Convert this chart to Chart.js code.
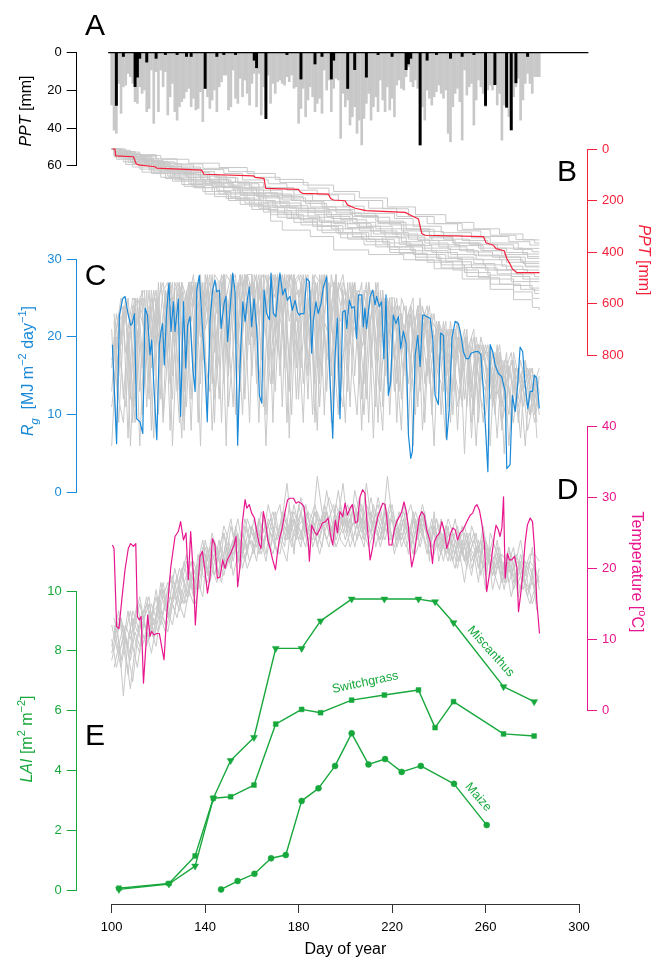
<!DOCTYPE html>
<html>
<head>
<meta charset="utf-8">
<script src="https://cdn.jsdelivr.net/npm/chart.js@4.4.1/dist/chart.umd.min.js"></script>
<style>
  html, body { margin: 0; padding: 0; background: #fff; }
  canvas { display: block; }
</style>
</head>
<body>
<canvas id="chart" width="653" height="959"></canvas>
<script>
// A: daily precipitation, mm (grey = all years, one bar per day from day 100)
const PPT_FIRST_DAY = 100;
const pptAllYears = [
  27.8, 41.1, 42.8, 16.3, 32.2, 18.1, 17.2, 11.0, 12.7, 16.3,
  26.0, 26.9, 18.1, 21.6, 19.8, 31.3, 29.6, 9.2, 37.5, 10.1,
  31.3, 9.2, 18.1, 10.1, 33.1, 23.4, 16.3, 31.3, 35.8, 28.7,
  26.0, 24.2, 20.7, 18.9, 28.7, 24.2, 30.4, 29.6, 20.7, 36.6,
  18.9, 23.4, 29.6, 25.1, 19.8, 31.3, 18.1, 15.4, 11.9, 11.9,
  30.4, 28.7, 9.2, 24.2, 26.9, 13.6, 23.4, 14.5, 21.6, 27.8,
  16.3, 11.0, 28.7, 11.0, 33.1, 18.1, 26.0, 11.9, 26.9, 16.3,
  21.6, 15.4, 14.5, 16.3, 17.2, 12.7, 15.4, 11.9, 18.9, 18.1,
  37.5, 29.6, 18.9, 34.0, 25.1, 18.1, 23.4, 31.3, 26.9, 24.2,
  32.2, 9.2, 19.8, 14.5, 31.3, 18.9, 13.6, 14.5, 45.5, 21.6,
  28.7, 25.1, 38.4, 34.0, 28.7, 42.8, 35.8, 49.0, 34.9, 26.9,
  21.6, 35.8, 28.7, 23.4, 31.3, 14.5, 25.1, 31.3, 18.1, 30.4,
  24.2, 34.0, 17.2, 14.5, 18.9, 19.8, 12.7, 7.4, 15.4, 18.1,
  14.5, 18.9, 49.0, 28.7, 35.8, 19.8, 24.2, 27.8, 23.4, 20.7,
  17.2, 21.6, 24.2, 19.8, 42.8, 47.3, 28.7, 21.6, 18.9, 26.0,
  46.4, 9.2, 22.5, 18.1, 16.3, 38.4, 25.1, 14.5, 18.1, 21.6,
  28.7, 19.8, 17.2, 19.8, 11.9, 27.8, 21.6, 46.4, 27.8, 23.4,
  34.0, 41.1, 23.4, 18.1, 13.6, 35.8, 25.1, 16.3, 11.0, 16.3,
  21.6, 12.7, 12.7, 12.7
];
// A: daily precipitation of the study year [day, mm]
const pptStudyYear = [
  [102, 28], [105, 2], [110, 18], [111, 13], [112, 3], [115, 5], [119, 3], [123, 1], [128, 1],
  [132, 2], [134, 2], [140, 19], [145, 2], [148, 1], [153, 1], [161, 4], [162, 8], [166, 35],
  [175, 1], [181, 14], [187, 6], [190, 2], [194, 14], [195, 4], [201, 19], [204, 9], [209, 13],
  [214, 1], [220, 2], [226, 9], [227, 6], [228, 3], [232, 49], [235, 4], [239, 1], [245, 3],
  [250, 2], [255, 1], [260, 28], [264, 17], [269, 29], [271, 41], [273, 16], [278, 2]
];

// B: cumulative precipitation, mm [day, mm]
const cumStudyYear = [
  [100.3, 0], [101.4, 0], [101.7, 27], [109.3, 30], [110.4, 56], [111.4, 62], [118.5, 69], [119.3, 74],
  [138.5, 82], [139.5, 98], [160.6, 104], [161.4, 110], [165.2, 114], [165.9, 153], [179.9, 157],
  [180.6, 166], [181.6, 172], [192.7, 175], [193.7, 192], [194.9, 198], [199.9, 201], [200.9, 217],
  [202.7, 224], [204.2, 230], [208.9, 239], [225.6, 246], [228.4, 259], [231.3, 272], [232.7, 328],
  [234.1, 335], [259.1, 340], [260.2, 364], [263.4, 374], [264.5, 387], [268.0, 395], [269.1, 425],
  [270.5, 447], [271.5, 466], [273.4, 480], [283.1, 480]
];
const cumOtherYears = [
  [[100,0],[104,12],[112,25],[121,40],[133,55],[146,72],[158,95],[170,118],[182,140],[195,165],[206,190],[218,225],[230,255],[243,285],[255,310],[266,330],[276,353],[283,353]],
  [[100,0],[103,20],[109,35],[118,50],[127,62],[135,80],[148,95],[156,120],[167,135],[175,160],[188,178],[197,200],[210,230],[222,262],[235,290],[248,318],[258,340],[270,360],[279,373],[283,373]],
  [[100,0],[102,8],[107,30],[116,48],[124,70],[138,88],[144,110],[153,130],[165,150],[178,178],[186,200],[199,222],[208,250],[221,270],[229,300],[241,325],[254,345],[262,365],[274,386],[283,386]],
  [[100,0],[101,15],[106,40],[115,60],[123,78],[131,100],[141,118],[150,140],[160,170],[171,190],[183,212],[192,235],[204,258],[214,285],[226,312],[238,335],[250,355],[261,372],[272,390],[280,399],[283,399]],
  [[100,0],[105,10],[110,28],[119,55],[128,85],[137,105],[149,128],[159,148],[168,175],[177,200],[185,225],[196,248],[207,265],[219,295],[232,320],[242,350],[253,370],[265,385],[276,408],[283,408]],
  [[100,0],[103,5],[108,22],[113,45],[122,68],[130,92],[142,120],[151,150],[162,172],[173,198],[181,230],[193,255],[203,285],[213,310],[225,335],[237,355],[247,375],[259,395],[268,410],[278,425],[283,425]],
  [[100,0],[102,25],[111,45],[117,70],[126,95],[136,125],[147,150],[155,178],[166,205],[176,230],[187,255],[198,275],[209,300],[220,330],[231,355],[240,380],[252,400],[263,420],[275,438],[283,438]],
  [[100,0],[104,30],[114,50],[121,80],[132,110],[139,135],[152,160],[163,190],[172,220],[184,245],[194,270],[205,300],[215,325],[227,350],[236,372],[249,395],[257,415],[269,440],[277,458],[283,458]],
  [[100,0],[101,10],[107,35],[115,62],[125,90],[134,120],[143,145],[154,168],[161,200],[170,225],[180,245],[191,280],[201,305],[212,330],[224,360],[233,385],[245,410],[256,430],[267,455],[276,470],[283,470]],
  [[100,0],[103,35],[110,60],[120,85],[129,118],[140,140],[148,170],[158,200],[169,228],[179,260],[189,285],[200,310],[211,340],[223,370],[234,395],[244,420],[255,445],[264,470],[273,485],[281,496],[283,496]],
  [[100,0],[102,18],[108,48],[116,75],[124,105],[133,135],[145,162],[153,195],[164,225],[174,255],[182,280],[194,310],[203,340],[216,365],[228,395],[239,425],[250,450],[260,470],[271,495],[279,515],[283,515]],
  [[100,0],[104,22],[109,55],[118,90],[127,120],[136,150],[146,175],[157,210],[167,240],[177,270],[188,300],[197,330],[209,360],[219,390],[230,420],[241,450],[251,480],[262,505],[272,530],[280,548],[283,548]],
  [[100,0],[101,30],[106,60],[113,90],[123,115],[131,145],[140,175],[150,200],[160,235],[171,265],[181,295],[190,325],[201,350],[213,380],[223,405],[235,440],[246,470],[257,500],[266,525],[275,545],[281,561],[283,561]],
  [[100,0],[103,15],[110,40],[118,65],[127,90],[138,118],[148,145],[156,172],[163,230],[168,280],[173,315],[185,340],[195,392],[210,410],[225,430],[238,465],[250,505],[262,545],[272,585],[280,615],[283,625]],
  [[100,0],[102,40],[109,70],[117,95],[126,125],[135,150],[144,185],[155,215],[165,245],[175,270],[186,300],[196,325],[207,350],[218,380],[229,410],[240,435],[250,460],[261,490],[271,515],[279,540],[283,540]],
  [[100,0],[106,18],[112,38],[120,58],[130,75],[138,100],[146,130],[157,155],[165,180],[178,200],[190,225],[202,250],[213,280],[225,310],[236,340],[246,365],[258,395],[267,420],[277,455],[283,455]],
  [[100,0],[103,10],[110,22],[119,38],[128,58],[139,75],[150,88],[161,110],[172,130],[184,152],[193,175],[204,200],[216,232],[227,262],[238,290],[250,312],[262,335],[273,352],[281,365],[283,365]],
  [[100,0],[102,12],[108,30],[117,52],[125,75],[134,98],[145,112],[154,135],[163,160],[173,185],[182,205],[191,240],[203,262],[214,290],[224,318],[236,345],[246,365],[257,385],[269,402],[278,418],[283,418]],
  [[100,0],[101,22],[107,42],[114,58],[123,85],[133,110],[142,130],[152,155],[162,185],[172,210],[181,238],[192,262],[202,290],[211,318],[222,342],[234,365],[244,390],[255,412],[266,430],[276,445],[283,445]],
  [[100,0],[104,18],[109,42],[118,68],[126,100],[135,128],[146,148],[155,180],[165,210],[175,240],[184,265],[195,290],[206,318],[217,345],[226,375],[237,402],[248,428],[259,450],[269,468],[278,480],[283,480]],
  [[100,0],[102,30],[107,52],[116,82],[125,112],[134,140],[143,165],[151,190],[161,218],[171,248],[180,272],[190,298],[199,325],[210,352],[221,380],[233,410],[243,438],[254,462],[265,485],[276,505],[283,505]],
  [[100,0],[101,25],[105,50],[112,78],[121,110],[130,138],[139,165],[149,192],[159,222],[168,255],[178,285],[188,315],[198,345],[208,372],[219,402],[230,432],[241,462],[252,495],[262,525],[272,555],[280,580],[283,580]]
];

// C: global radiation, MJ m-2 day-1
const rgStudyDays = [100.3,102.1,103.3,104.7,105.7,107.1,108.1,108.8,109.7,110.7,112.1,113.3,114.3,115.3,116.4,117.1,118.1,119.3,120.4,121.1,121.8,122.5,123.5,124.5,125.4,126.4,127.1,128.5,129.5,130.7,131.7,132.5,133.5,134.7,135.7,136.4,137.5,138.5,139.9,140.9,142.1,143.2,144.2,144.9,146.1,146.8,148.1,148.9,149.6,150.6,151.8,152.8,153.9,154.9,156.1,157.1,158.1,158.9,159.9,160.9,162.1,163.2,164.2,165.2,166.3,167.5,168.2,169.2,170.3,171.3,172.0,173.2,174.2,175.2,176.3,177.3,178.5,179.5,180.3,181.0,182.3,183.4,184.6,185.6,186.3,187.4,188.4,189.6,190.6,192.0,193.1,194.6,195.6,196.6,197.7,198.9,199.9,200.6,201.7,202.7,203.8,204.8,205.6,207.0,207.7,208.4,209.1,210.6,211.7,212.7,213.4,214.5,215.5,216.5,217.4,218.4,219.4,220.5,221.7,222.7,223.7,224.8,226.0,227.0,228.0,228.7,229.9,231.0,232.0,233.1,233.8,234.8,236.3,237.4,238.4,239.8,240.8,242.0,243.4,244.6,245.6,247.0,248.4,249.5,250.5,251.7,252.8,253.8,255.5,257.0,258.0,259.1,260.2,261.0,262.0,263.1,264.1,265.5,266.9,268.4,269.1,270.5,271.5,272.7,273.7,274.8,275.9,276.9,278.1,279.1,280.1,280.9,281.9,283.0];
const rgStudyValues = [19.0,6.3,22.8,24.9,25.2,22.8,21.5,21.7,23.0,9.5,9.1,7.6,23.7,22.8,17.7,19.6,13.4,6.8,19.0,20.7,21.7,16.4,23.2,26.9,20.7,24.5,20.7,24.9,9.8,24.5,16.0,21.5,22.6,16.0,13.0,26.0,27.9,22.8,16.0,9.1,22.2,26.0,27.3,25.8,26.0,21.1,24.3,25.2,19.4,23.2,28.2,25.8,6.1,16.0,24.5,22.0,24.9,26.4,21.3,24.9,20.9,12.5,11.5,26.0,23.0,22.2,28.2,23.0,22.6,26.2,28.2,25.4,26.2,24.7,25.2,23.4,24.7,23.2,22.8,23.0,23.0,27.5,27.1,17.9,22.0,24.5,23.0,24.3,26.4,27.7,16.8,7.0,17.7,22.4,9.5,23.2,23.4,21.1,24.7,23.7,23.9,19.8,25.4,25.4,21.3,23.7,21.1,25.2,26.0,24.1,25.2,23.9,24.5,17.2,25.4,12.5,14.2,22.8,21.7,22.6,18.5,20.7,19.2,7.4,4.4,5.3,17.7,20.2,16.2,22.8,22.8,22.6,22.4,19.8,12.5,11.3,20.5,20.2,6.8,11.3,19.8,22.0,21.7,20.2,18.1,17.2,17.2,17.9,18.1,18.1,17.7,13.0,7.2,2.7,19.0,18.1,16.4,15.3,14.9,13.0,3.1,3.6,12.5,10.4,13.6,18.7,18.1,14.0,10.8,13.0,13.0,15.1,14.7,10.8];
// other years: one value every second day, first day given per year
const rgOtherFirstDay = [100, 101, 100, 101, 100, 101, 100, 101, 100, 101, 100];
const rgOtherYears = [
  [21,8,22,24,12,25,6,20,26,15, 27,10,24,27,18,7,26,22,27,14, 28,25,9,27,28,20,11,26,28,17, 28,22,28,10,27,25,28,16,28,27, 12,27,28,20,8,27,26,15,27,24, 26,11,25,26,19,24,7,23,25,18, 24,23,12,22,24,16,21,9,22,20, 21,13,20,21,8,19,20,14,18,19, 17,6,18,17,12,16,17,9,15,16, 12,15],
  [14,22,23,7,24,20,25,11,23,26, 19,26,8,27,25,13,27,27,9,26, 23,28,16,27,6,28,25,28,12,27, 24,9,28,27,19,28,11,27,28,22, 27,17,25,28,27,10,26,27,21,26, 13,26,22,8,25,26,17,25,24,10, 23,18,24,22,6,23,21,15,22,21, 10,21,19,16,20,5,19,18,12,18, 18,15,7,17,16,11,16,14,6,15, 15,10],
  [6,18,24,23,17,9,24,25,19,7, 25,27,21,12,27,26,17,27,24,6, 27,19,28,27,14,24,28,8,27,28, 26,28,17,26,28,13,25,28,7,27, 28,25,12,27,19,27,28,9,25,27, 22,27,15,25,24,9,26,20,25,14, 25,9,23,19,24,22,13,22,17,6, 22,18,21,10,20,17,19,7,19,15, 13,19,16,17,5,16,13,16,11,14, 16,7],
  [19,23,12,21,25,24,16,26,8,24, 22,16,27,23,27,10,25,28,19,27, 11,27,23,28,21,27,28,16,24,9, 28,26,22,28,9,28,23,26,28,12, 24,28,22,14,28,23,27,18,10,27, 25,20,26,12,22,25,26,13,21,25, 17,24,21,8,23,18,24,20,11,22, 19,22,9,20,18,21,14,11,19,17, 19,11,17,14,18,8,16,15,12,10, 14,16],
  [11,16,20,25,6,19,22,14,24,21, 10,23,26,6,20,27,23,8,25,28, 17,13,26,22,28,11,19,27,23,28, 15,27,24,6,21,28,26,19,13,28, 20,9,27,24,16,28,13,24,28,19, 9,24,27,21,14,27,22,9,24,22, 20,14,25,23,17,10,24,23,19,13, 22,16,12,21,19,11,20,16,6,18, 14,17,10,18,15,13,9,16,14,8, 11,14],
  [22,12,9,19,23,25,10,18,25,22, 16,20,24,18,9,24,27,15,21,25, 26,8,20,25,18,26,22,13,28,21, 27,16,11,25,24,18,27,9,24,20, 16,24,19,26,11,22,20,27,14,11, 27,16,10,23,27,19,11,26,15,23, 13,21,19,14,20,24,8,17,23,16, 14,7,21,15,12,20,16,20,15,9, 16,13,18,9,12,17,14,7,17,13, 9,13],
  [17,20,16,11,21,14,23,21,12,25, 24,9,18,25,22,20,11,24,26,20, 21,24,12,18,25,16,27,21,10,25, 20,24,27,20,14,23,17,28,22,25, 26,14,23,10,25,26,17,21,27,16, 19,23,21,18,10,21,24,15,8,25, 21,16,8,24,13,20,16,23,14,19, 17,20,15,18,11,15,21,9,17,12, 10,18,14,12,17,6,15,12,16,11, 13,12],
  [23,15,24,20,9,25,23,17,26,19, 27,21,14,26,27,8,23,27,20,25, 28,14,26,21,28,27,10,28,24,19, 25,28,20,27,14,26,28,22,10,27, 28,21,26,9,24,28,23,12,27,25, 17,26,24,27,12,23,26,20,25,13, 24,20,15,23,25,11,22,24,18,21, 20,15,22,17,21,12,19,21,9,19, 17,14,19,11,16,18,13,15,17,10, 15,13],
  [16,23,19,24,22,11,25,26,14,23, 20,26,27,15,22,27,25,12,27,22, 25,28,18,24,28,15,27,26,22,28, 28,20,25,28,23,28,15,25,28,18, 22,27,15,28,26,22,18,28,24,22, 25,19,27,14,26,21,24,27,11,24, 19,24,22,17,23,19,25,14,20,23, 16,22,11,19,22,15,18,13,20,16, 19,16,12,18,13,16,17,11,14,16, 14,9],
  [20,9,21,25,17,22,26,20,16,25, 12,25,27,20,26,16,27,24,27,17, 27,22,27,9,25,28,19,24,28,26, 19,27,28,17,28,24,21,28,26,16, 27,25,20,27,14,28,25,19,26,28, 23,27,20,25,26,16,27,23,18,25, 25,13,21,23,20,24,18,23,10,21, 21,18,16,21,14,20,17,10,19,18, 14,18,15,8,17,15,12,17,14,16, 10,15],
  [13,21,25,18,22,25,13,23,21,26, 22,18,26,24,13,26,22,27,16,27, 24,27,22,12,28,23,28,19,26,23, 27,14,26,23,27,20,28,25,17,28, 25,28,17,22,27,15,28,22,28,13, 21,25,27,17,20,27,23,17,26,20, 22,25,18,20,23,14,23,21,24,15, 22,20,18,13,22,19,11,20,15,20, 17,12,16,19,14,10,18,15,13,15, 16,11]
];

// D: air temperature, deg C [day, value]
const tempStudyYear = [
  [100.3,23.3],[101.0,22.8],[102.1,11.8],[103.1,11.5],[104.3,15.5],[105.7,19.8],[107.1,22.8],[108.1,23.5],[109.3,23.1],[110.3,23.5],
  [111.0,13.2],[111.8,12.7],[112.6,13.2],[113.6,3.8],[114.6,8.9],[115.4,13.4],[116.4,10.4],[117.1,11.1],[118.1,10.6],[119.3,10.8],
  [120.4,10.8],[121.4,8.9],[122.4,7.1],[123.5,13.2],[125.3,20.2],[127.1,24.5],[128.5,25.2],[129.5,26.6],[130.7,24.0],[131.8,25.0],
  [132.8,18.4],[133.8,25.2],[135.0,18.8],[135.8,12.0],[136.7,16.9],[137.8,21.7],[138.8,22.4],[139.8,20.0],[141.0,16.5],[142.1,18.8],
  [143.1,24.2],[144.2,23.3],[145.2,18.6],[146.4,18.8],[147.5,21.2],[148.5,20.0],[149.5,21.2],[150.9,22.1],[152.4,23.3],[153.2,24.5],
  [153.9,17.4],[154.9,20.2],[155.9,26.4],[157.1,29.7],[157.8,28.5],[158.9,29.0],[159.9,27.8],[161.1,27.1],[162.1,25.2],[163.1,23.5],
  [163.9,22.8],[164.9,28.0],[165.9,26.4],[166.8,24.0],[167.8,22.8],[168.9,21.2],[170.1,19.8],[170.9,22.1],[171.8,24.2],[172.8,25.4],
  [174.2,28.0],[175.3,29.7],[176.3,29.9],[177.8,29.9],[178.9,29.2],[179.9,29.4],[181.0,29.2],[182.3,28.7],[183.2,25.9],[184.2,23.5],
  [184.6,21.0],[185.6,26.1],[186.8,25.2],[187.8,24.7],[188.9,25.4],[190.2,26.4],[191.5,26.6],[192.6,27.1],[193.5,25.0],[194.6,23.3],
  [195.7,26.8],[196.6,25.0],[197.7,28.0],[198.9,27.3],[199.9,29.2],[200.9,27.5],[202.0,28.5],[203.0,29.0],[204.3,26.4],[205.2,26.6],
  [206.3,30.1],[207.4,31.1],[208.4,30.6],[209.4,25.9],[210.6,21.2],[211.6,22.8],[212.7,25.4],[213.9,27.3],[214.9,28.2],[216.0,29.2],
  [217.0,29.0],[217.7,27.3],[218.7,23.3],[219.9,23.3],[220.9,25.4],[222.0,26.6],[223.1,27.3],[224.1,28.0],[225.1,29.4],[226.0,28.2],
  [227.0,25.9],[227.7,22.4],[228.4,20.2],[229.4,21.7],[230.6,24.7],[231.7,27.3],[232.7,28.0],[233.8,27.5],[234.8,25.4],[236.3,23.8],
  [237.3,20.7],[238.1,23.8],[239.1,24.5],[240.3,25.0],[241.3,26.6],[242.4,25.2],[243.4,22.8],[244.3,23.8],[245.1,25.0],[246.0,25.7],
  [247.1,25.4],[248.0,24.0],[249.1,25.0],[250.3,25.4],[251.3,26.1],[252.3,26.8],[253.4,27.5],[254.5,27.8],[255.5,28.7],[256.3,29.0],
  [257.4,28.2],[258.4,26.4],[259.5,23.5],[260.5,16.7],[261.5,18.8],[262.7,21.7],[263.7,24.5],[264.5,26.1],[265.5,25.4],[266.2,24.5],
  [267.0,25.7],[267.7,30.1],[268.4,18.6],[269.4,22.1],[270.2,21.2],[271.2,21.2],[272.4,21.7],[273.4,20.2],[274.1,13.9],[275.1,16.5],
  [275.9,19.1],[276.9,23.5],[277.9,26.1],[279.1,27.1],[280.1,26.6],[280.9,23.1],[281.9,15.5],[283.1,10.8]
];
const tempOtherFirstDay = [100, 101, 100, 101, 100, 101, 100, 101, 100, 101];
const tempOtherYears = [
  [9,12,7,11,14,10,8,13,15,12, 14,17,13,16,19,15,18,21,17,20, 22,18,21,24,20,23,19,22,25,23, 26,23,25,22,26,28,24,27,25,23, 27,29,25,24,28,26,31,27,24,26, 28,25,27,30,26,24,27,29,26,25, 27,24,26,28,23,25,27,24,22,26, 24,21,25,23,20,24,22,19,23,21, 20,23,19,17,21,18,20,16,19,17, 18,16],
  [12,8,10,14,9,6,11,15,13,16, 12,15,19,16,14,18,20,17,22,19, 18,21,23,20,24,22,25,21,23,26, 24,27,23,26,24,22,27,25,28,26, 25,23,27,29,26,28,25,23,27,32, 26,28,24,26,29,27,23,26,28,24, 25,28,26,22,27,24,28,25,23,24, 22,25,21,24,22,18,23,21,24,20, 22,19,21,18,20,16,19,21,17,15, 17,19],
  [7,10,13,8,3,9,12,10,14,11, 16,13,11,15,17,20,16,19,18,22, 20,23,19,22,26,24,21,25,22,27, 25,24,28,26,23,27,29,24,26,28, 26,27,24,26,33,28,26,24,29,27, 24,27,29,25,23,28,26,30,27,25, 28,26,24,27,29,26,23,26,25,22, 25,23,26,21,24,22,25,20,22,24, 19,22,20,23,18,21,17,19,22,18, 15,17],
  [11,14,9,5,12,15,11,9,13,17, 13,11,14,18,15,13,17,20,18,16, 23,20,18,22,21,26,23,20,24,21, 23,25,27,24,22,25,27,32,26,24, 28,25,26,28,24,27,30,28,26,25, 27,29,26,24,27,25,28,26,24,27, 26,25,29,26,24,27,25,22,26,27, 23,26,24,22,25,21,23,25,20,23, 21,20,24,19,22,20,18,22,19,21, 20,18],
  [10,6,9,12,10,13,16,12,10,14, 15,18,14,12,16,19,22,18,15,19, 21,19,24,21,19,22,24,27,23,20, 22,26,24,21,25,23,22,26,24,27, 24,26,28,23,25,27,24,26,23,25, 27,23,25,28,24,26,24,27,25,28, 24,27,23,25,26,22,24,27,24,25, 26,23,21,25,23,26,21,23,25,19, 23,20,22,20,17,21,23,18,20,16, 20,15],
  [13,10,2,10,13,11,14,11,8,12, 17,14,16,20,17,15,19,16,21,24, 19,22,20,18,23,20,26,23,21,24, 27,22,24,26,28,25,23,21,27,25, 23,28,26,25,22,25,27,29,25,28, 25,26,28,26,32,27,25,24,29,26, 22,25,27,24,28,25,28,24,27,23, 27,24,22,20,24,26,23,22,18,25, 23,17,20,22,21,19,21,24,20,22, 22,21],
  [8,11,13,10,7,11,9,14,16,10, 13,16,18,15,13,17,15,18,20,17, 24,21,22,19,25,21,22,24,20,23, 24,21,26,25,23,26,25,23,29,22, 29,26,23,27,25,23,28,25,27,24, 23,25,31,28,25,23,25,28,26,33, 27,23,25,23,25,28,26,28,21,28, 21,24,27,25,21,23,20,26,24,22, 17,25,23,21,19,23,20,21,17,19, 23,16],
  [6,9,12,9,14,12,9,11,15,13, 18,15,13,17,20,18,16,21,19,23, 21,25,22,20,24,27,23,21,26,24, 22,27,25,29,26,24,28,26,23,27, 30,27,25,28,26,29,27,24,28,26, 29,26,28,25,27,30,26,24,28,25, 23,26,28,25,22,26,29,26,24,27, 25,22,24,27,23,21,25,23,20,24, 22,19,23,20,18,22,19,17,21,19, 17,20],
  [12,9,6,10,8,12,15,12,10,13, 11,14,17,19,15,18,21,19,17,20, 23,20,19,23,25,22,24,21,25,22, 26,24,22,25,27,24,26,28,25,29, 26,24,28,27,23,26,28,25,27,29, 25,27,23,26,28,25,29,26,24,27, 29,25,24,26,23,27,25,27,23,26, 23,25,22,24,26,22,24,21,23,22, 24,21,19,22,20,23,18,20,18,21, 19,14],
  [10,13,11,8,4,10,13,16,11,9, 14,12,16,14,18,21,17,15,19,22, 19,24,21,23,20,22,25,23,27,24, 23,25,23,27,25,22,26,24,27,26, 24,29,26,24,27,25,23,27,31,26, 27,24,26,29,25,28,26,23,26,29, 26,24,27,25,27,24,27,25,26,24, 22,26,24,23,21,25,22,24,22,26, 21,24,22,18,21,19,22,20,18,17, 21,17]
];

// E: leaf area index, m2 m-2
const laiPerennialDays = [103.1, 124.5, 135.7, 143.5, 150.9, 160.9, 170.2, 181.3, 189.4, 202.7, 216.7, 231.3, 238.4, 246.3, 267.7, 280.8];
const laiMiscanthus = [0.02, 0.2, 0.8, 3.07, 4.33, 5.1, 8.08, 8.08, 9.0, 9.73, 9.73, 9.73, 9.64, 8.94, 6.8, 6.3];
const laiSwitchgrass = [0.06, 0.22, 1.14, 3.07, 3.12, 3.51, 5.55, 6.04, 5.93, 6.35, 6.52, 6.69, 5.43, 6.30, 5.22, 5.15];
const laiMaizeDays = [146.8, 153.9, 161.1, 168.2, 174.5, 181.3, 188.5, 195.6, 202.7, 209.9, 217.0, 224.1, 232.3, 246.5, 260.5];
const laiMaize = [0.02, 0.30, 0.54, 1.06, 1.17, 2.98, 3.40, 4.15, 5.24, 4.20, 4.38, 3.95, 4.15, 3.55, 2.17];

const FONT = '"Liberation Sans", Arial, Helvetica, sans-serif';
const BLACK = '#000000';
const GREY = '#c8c8c8';
const RED = '#f5213a';
const BLUE = '#1a8ad8';
const MAGENTA = '#e8168e';
const GREEN = '#17a83c';

Chart.defaults.font.family = FONT;

const pairs = list => list.map(p => ({ x: p[0], y: p[1] }));
const zipped = (xs, ys) => ys.map((v, i) => ({ x: xs[i], y: v }));
const everySecondDay = (first, ys) => ys.map((v, i) => ({ x: first + 2 * i, y: v }));

// datasets are added bottom layer first
const datasets = [];
function add(ds) {
  datasets.push(Object.assign({
    type: 'line', xAxisID: 'x', clip: false, pointRadius: 0, tension: 0,
    borderWidth: 1, borderJoinStyle: 'round'
  }, ds));
}

add({ type: 'bar', yAxisID: 'yA', data: pptAllYears.map((v, i) => ({ x: PPT_FIRST_DAY + i, y: v })),
      backgroundColor: GREY, barThickness: 2.0, grouped: false, borderWidth: 0 });
add({ type: 'bar', yAxisID: 'yA', data: pairs(pptStudyYear),
      backgroundColor: BLACK, barThickness: 2.3, grouped: false, borderWidth: 0 });
add({ yAxisID: 'yA', data: [{ x: 98.5, y: 0 }, { x: 304, y: 0 }], borderColor: BLACK, borderWidth: 1.3 });

cumOtherYears.forEach(y => add({ yAxisID: 'yB', data: pairs(y), borderColor: GREY, stepped: true }));
add({ yAxisID: 'yB', data: pairs(cumStudyYear), borderColor: RED, borderWidth: 1.2 });

rgOtherYears.forEach((y, k) => add({ yAxisID: 'yC', data: everySecondDay(rgOtherFirstDay[k], y), borderColor: GREY }));
add({ yAxisID: 'yC', data: zipped(rgStudyDays, rgStudyValues), borderColor: BLUE, borderWidth: 1.2 });

tempOtherYears.forEach((y, k) => add({ yAxisID: 'yD', data: everySecondDay(tempOtherFirstDay[k], y), borderColor: GREY }));
add({ yAxisID: 'yD', data: pairs(tempStudyYear), borderColor: MAGENTA, borderWidth: 1.2 });

add({ yAxisID: 'yE', data: zipped(laiMaizeDays, laiMaize), borderColor: GREEN, backgroundColor: GREEN,
      borderWidth: 1.4, pointStyle: 'circle', pointRadius: 3, pointBorderWidth: 0.5 });
add({ yAxisID: 'yE', data: zipped(laiPerennialDays, laiSwitchgrass), borderColor: GREEN, backgroundColor: GREEN,
      borderWidth: 1.4, pointStyle: 'rect', pointRadius: 3.4, pointBorderWidth: 0.5 });
add({ yAxisID: 'yE', data: zipped(laiPerennialDays, laiMiscanthus), borderColor: GREEN, backgroundColor: GREEN,
      borderWidth: 1.4, pointStyle: 'triangle', pointRotation: 180, pointRadius: 4, pointBorderWidth: 0.5 });

datasets.forEach((ds, i) => { ds.order = datasets.length - i; });

// value axes share one column on each side (stacked scales); blank spacer scales fill the gaps
const SIDE_SIZE = { left: 60, right: 50, bottom: 55 };
function fixSize(position) {
  return s => { if (position === 'bottom') s.height = SIDE_SIZE.bottom; else s.width = SIDE_SIZE[position]; };
}
function valueAxis(position, color, min, max, stepSize, reverse, stackWeight, weight) {
  return {
    type: 'linear', position, stack: position, stackWeight, weight, min, max, reverse,
    ticks: { stepSize, color, autoSkip: false, padding: 5, font: { size: 13 } },
    grid: { drawOnChartArea: false, tickLength: 10, color, lineWidth: 1 },
    border: { display: true, color, width: 1 },
    afterFit: fixSize(position)
  };
}
function spacer(position, stackWeight, weight) {
  return {
    type: 'linear', position, stack: position, stackWeight, weight, min: 0, max: 1,
    ticks: { display: false }, grid: { display: false }, border: { display: false },
    afterFit: fixSize(position)
  };
}

function drawRich(ctx, parts, cx, cy, angle, color, size) {
  ctx.save();
  ctx.translate(cx, cy);
  ctx.rotate(angle);
  ctx.fillStyle = color;
  ctx.textAlign = 'left';
  ctx.textBaseline = 'alphabetic';
  const fontOf = p => (p.i ? 'italic ' : '') + (p.s ? Math.round(size * 0.7) : size) + 'px ' + FONT;
  let w = 0;
  parts.forEach(p => { ctx.font = fontOf(p); w += ctx.measureText(p.t).width; });
  let x = -w / 2;
  const base = size * 0.36;
  parts.forEach(p => {
    ctx.font = fontOf(p);
    const dy = p.s === 'sup' ? -size * 0.42 : (p.s === 'sub' ? size * 0.3 : 0);
    ctx.fillText(p.t, x, base + dy);
    x += ctx.measureText(p.t).width;
  });
  ctx.restore();
}

const labels = {
  id: 'labels',
  afterDraw(chart) {
    const ctx = chart.ctx;
    const up = -Math.PI / 2, down = Math.PI / 2;
    // panel letters
    [['A', 95, 24], ['B', 567, 170], ['C', 95.5, 274], ['D', 567.5, 488.5], ['E', 95, 734.5]]
      .forEach(([t, x, y]) => drawRich(ctx, [{ t }], x, y, 0, BLACK, 30));
    // axis titles
    drawRich(ctx, [{ t: 'PPT', i: 1 }, { t: ' [mm]' }], 25, 111, up, BLACK, 16);
    drawRich(ctx, [{ t: 'PPT', i: 1 }, { t: ' [mm]' }], 644.5, 260, down, RED, 16);
    drawRich(ctx, [{ t: 'R', i: 1 }, { t: 'g', i: 1, s: 'sub' }, { t: '  [MJ m' }, { t: '\u22122', s: 'sup' },
                   { t: ' day' }, { t: '\u22121', s: 'sup' }, { t: ']' }], 27, 371, up, BLUE, 16);
    drawRich(ctx, [{ t: 'Temperature [' }, { t: 'o', s: 'sup' }, { t: 'C]' }], 638, 572, down, MAGENTA, 16);
    drawRich(ctx, [{ t: 'LAI', i: 1 }, { t: ' [m' }, { t: '2', s: 'sup' }, { t: ' m' }, { t: '\u22122', s: 'sup' },
                   { t: ']' }], 26, 739, up, GREEN, 16);
    // crop names along their curves
    const sx = chart.scales.x, sy = chart.scales.yE;
    [['Miscanthus', 262.6, 8.0, 48], ['Switchgrass', 208.4, 6.97, -12], ['Maize', 257.2, 3.13, 49]]
      .forEach(([t, d, v, deg]) => drawRich(ctx, [{ t }], sx.getPixelForValue(d), sy.getPixelForValue(v),
                                            deg * Math.PI / 180, GREEN, 12.5));
  }
};

new Chart(document.getElementById('chart'), {
  type: 'line',
  data: { datasets },
  options: {
    responsive: false,
    animation: false,
    devicePixelRatio: 1,
    events: [],
    layout: { padding: { top: 40, left: 16.7, right: 16, bottom: 0 } },
    plugins: { legend: { display: false }, tooltip: { enabled: false } },
    scales: {
      xPadL: spacer('bottom', 35, 1),
      x: {
        type: 'linear', position: 'bottom', stack: 'bottom', stackWeight: 467.3, weight: 2,
        min: 100, max: 300, offset: false,
        ticks: { stepSize: 40, color: BLACK, autoSkip: false, maxRotation: 0, padding: 7, font: { size: 13 } },
        grid: { drawOnChartArea: false, offset: false, tickLength: 9, color: '#333' },
        border: { color: '#333', width: 1 },
        title: { display: true, text: 'Day of year', color: BLACK, font: { size: 16 }, padding: 0 },
        afterFit: fixSize('bottom')
      },
      xPadR: spacer('bottom', 8, 3),
      yGap0: spacer('left', 12.7, 7),
      yA: valueAxis('left', BLACK, 0, 60, 20, true, 113, 6),
      yGap1: spacer('left', 93.3, 5),
      yC: valueAxis('left', BLUE, 0, 30, 10, false, 233.7, 4),
      yGap2: spacer('left', 98.3, 3),
      yE: valueAxis('left', GREEN, 0, 10, 2, false, 299, 2),
      yGap3: spacer('left', 14, 1),
      yGapR0: spacer('right', 109, 1),
      yB: valueAxis('right', RED, 0, 800, 200, true, 206, 2),
      yGapR1: spacer('right', 71.7, 3),
      yD: valueAxis('right', MAGENTA, 0, 40, 10, false, 283.3, 4),
      yGapR2: spacer('right', 194, 5)
    }
  },
  plugins: [labels]
});
</script>
</body>
</html>
